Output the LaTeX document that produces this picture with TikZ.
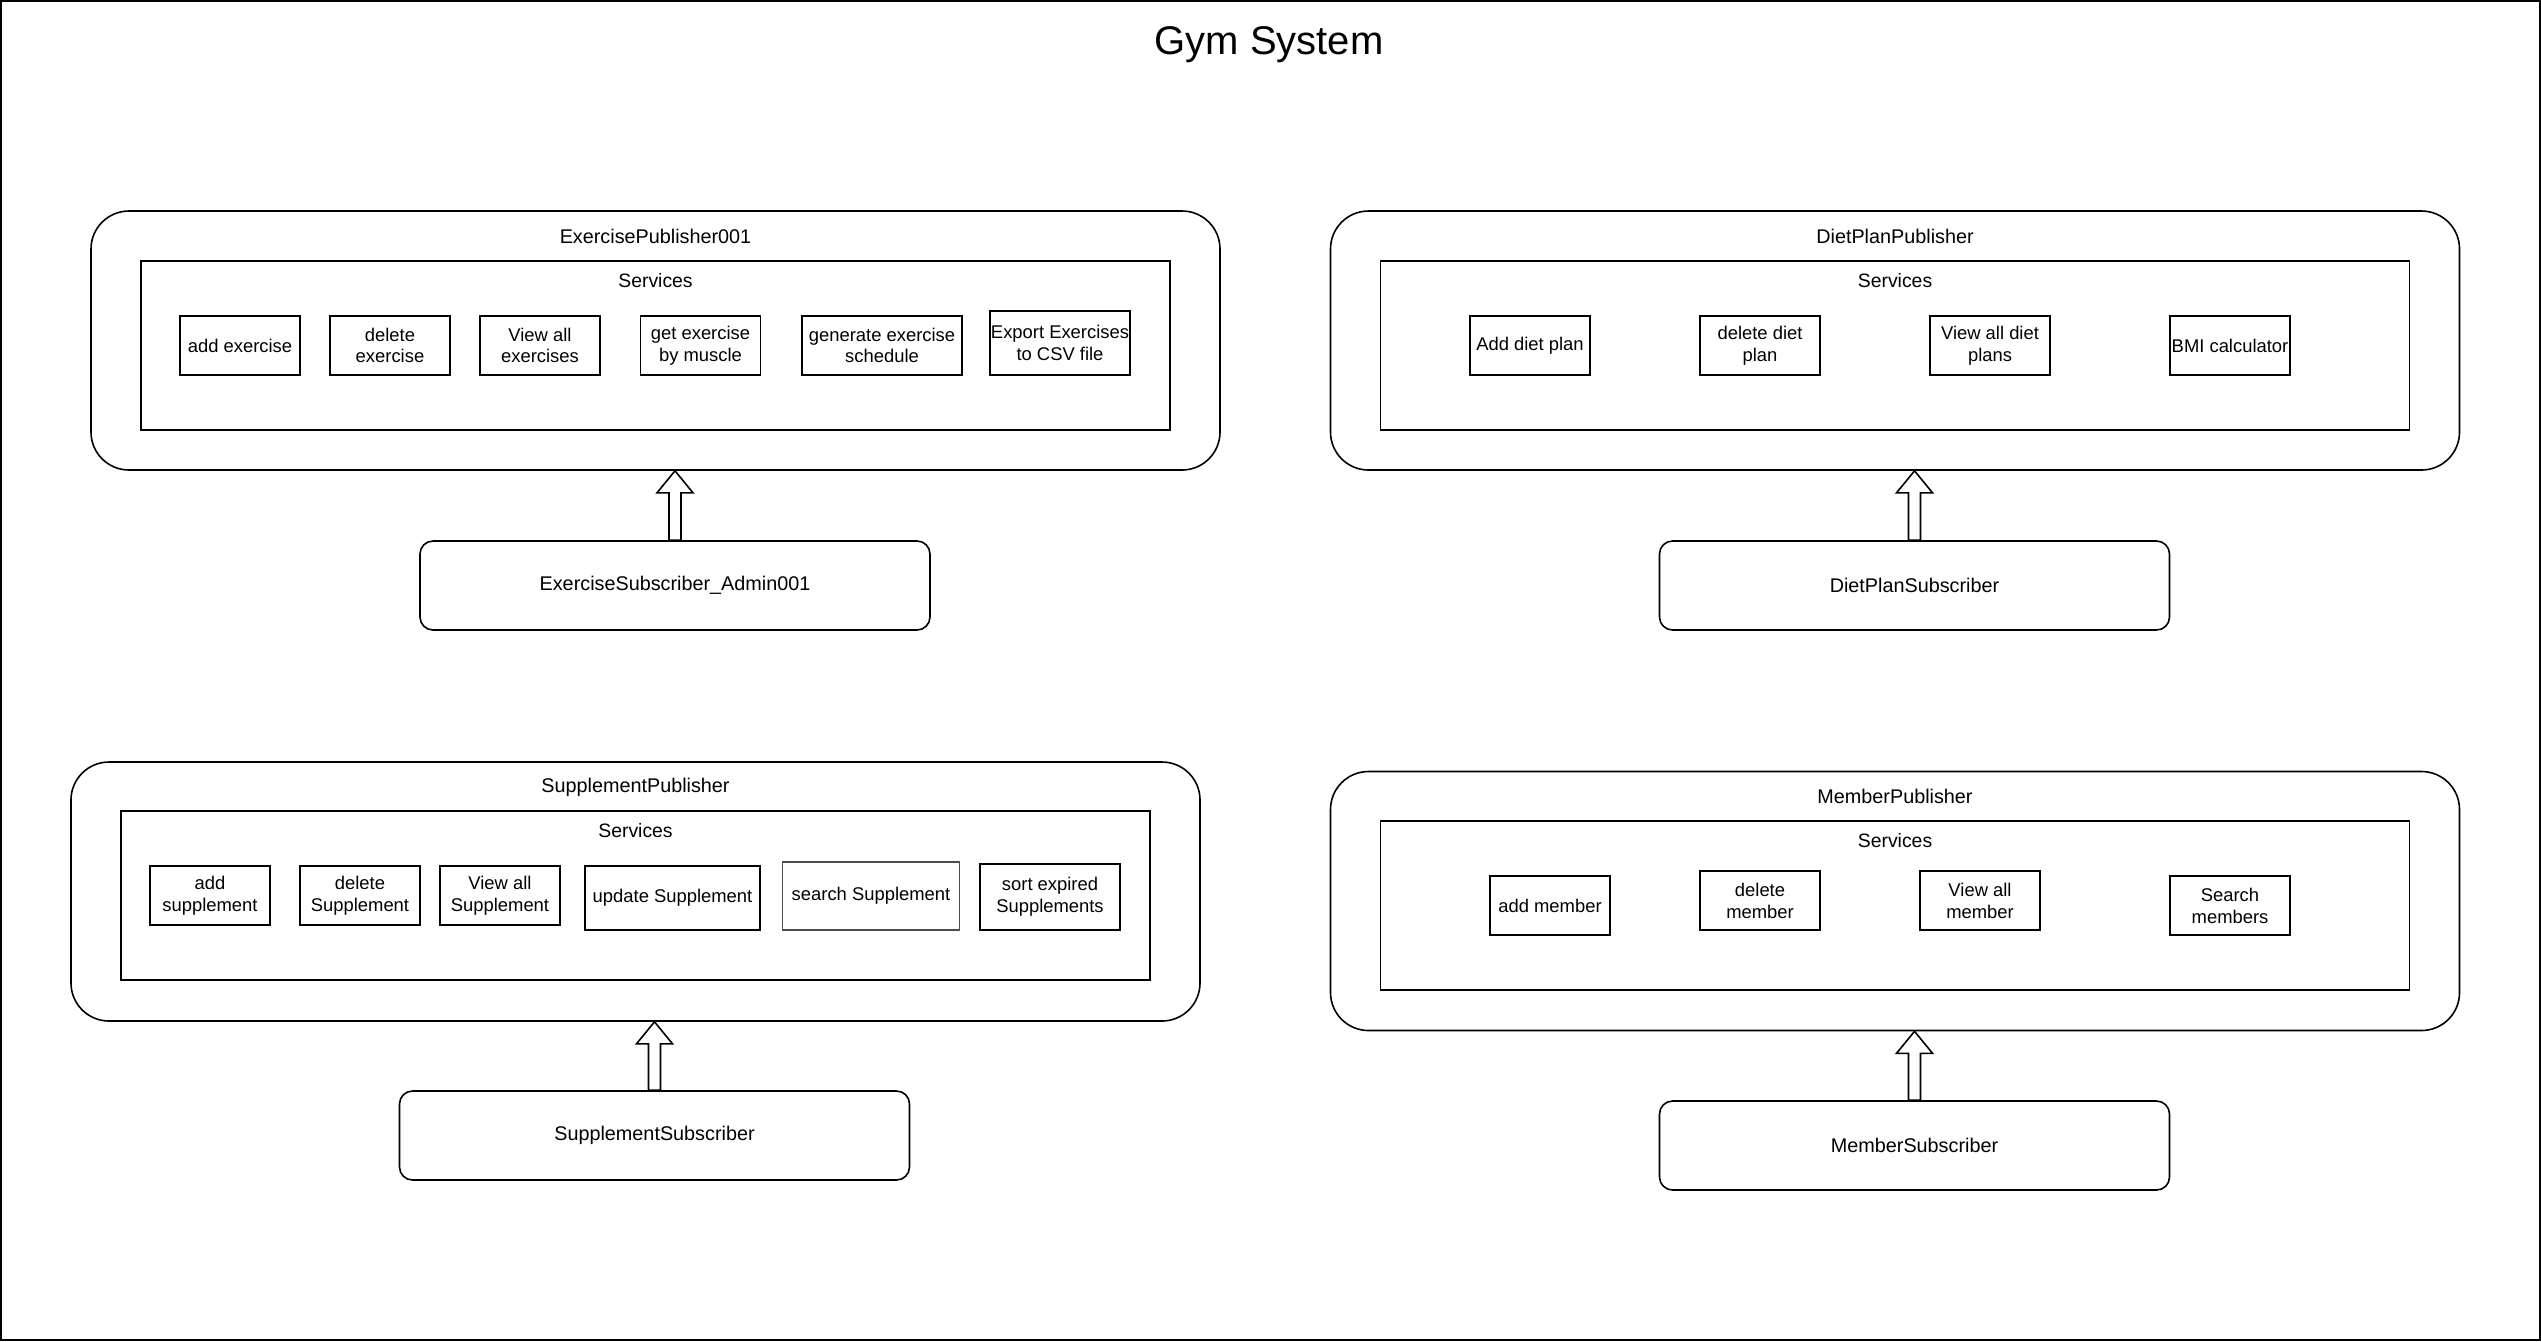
\documentclass[tikz,border=0pt]{standalone}
\usepackage{fontspec}
\setmainfont{Liberation Sans}
\usetikzlibrary{positioning, calc}

\begin{document}
\begin{tikzpicture}[x=0.5pt, y=-0.5pt, line width=0.8pt,
    txt/.style={font=\fontsize{9.7}{11.2}\selectfont},
    bigtxt/.style={font=\fontsize{9.9}{11.5}\selectfont},
    publisher/.style={draw, rounded corners=19pt, minimum width=564.5pt, minimum height=129.5pt},
    services/.style={draw, minimum width=514.5pt, minimum height=84.5pt},
    svc/.style={draw, font=\fontsize{9.2}{10.9}\selectfont, align=center, minimum width=60pt, minimum height=29.5pt, inner xsep=0pt, inner ysep=1pt},
    subscriber/.style={draw, bigtxt, rounded corners=6.5pt, minimum width=255pt, minimum height=44.5pt},
    pubtitle/.style={bigtxt, anchor=center, yshift=-13pt},
    svctitle/.style={txt, anchor=center, yshift=-10pt},
    flexarrow/.style={to path={
        ($(\tikztostart.north)+(-6,0)$) -- ($(\tikztostart.north |- \tikztotarget.south)+(-6,22)$)
        -- ($(\tikztostart.north |- \tikztotarget.south)+(-18,22)$) -- (\tikztostart.north |- \tikztotarget.south)
        -- ($(\tikztostart.north |- \tikztotarget.south)+(18,22)$) -- ($(\tikztostart.north |- \tikztotarget.south)+(6,22)$)
        -- ($(\tikztostart.north)+(6,0)$) -- cycle}}
]
    \useasboundingbox (0,0) rectangle (2541,1341);
    \draw[line width=1pt] (1,1) rectangle (2540,1340);

    \node[font=\fontsize{20}{24}\selectfont] (title) at (1269,45) {Gym System};

    % exercise
    \node[publisher, label={[pubtitle]north:ExercisePublisher001}] (expub) at (655.5,340.5) {};
    \node[services, label={[svctitle]north:Services}] (exsvc) at (655.5,345.5) {};
    \node[svc] (exadd) at (240,345.5) {add exercise};
    \node[svc] (exdel) at (390,345.5) {delete\\exercise};
    \node[svc] (exall) at (540,345.5) {View all\\exercises};
    \node[svc] (exmus) at (700.5,345.5) {get exercise\\by muscle};
    \node[svc, minimum width=80pt] (exgen) at (882,345.5) {generate exercise\\schedule};
    \node[svc, minimum width=70pt, minimum height=32pt] (excsv) at (1060,343) {Export Exercises\\to CSV file};
    \node[subscriber] (exsub) at (675,585.5) {ExerciseSubscriber\_Admin001};

    % diet plan
    \node[publisher, label={[pubtitle]north:DietPlanPublisher}] (dppub) at (1895,340.5) {};
    \node[services, label={[svctitle]north:Services}] (dpsvc) at (1895,345.5) {};
    \node[svc] (dpadd) at (1530,345.5) {Add diet plan};
    \node[svc] (dpdel) at (1760,345.5) {delete diet\\plan};
    \node[svc] (dpall) at (1990,345.5) {View all diet\\plans};
    \node[svc] (dpbmi) at (2230,345.5) {BMI calculator};
    \node[subscriber] (dpsub) at (1914.5,585.5) {DietPlanSubscriber};

    % supplement
    \node[publisher, label={[pubtitle]north:SupplementPublisher}] (sppub) at (635.5,891.5) {};
    \node[services, label={[svctitle]north:Services}] (spsvc) at (635.5,895.5) {};
    \node[svc] (spadd) at (210,895.5) {add\\supplement};
    \node[svc] (spdel) at (360,895.5) {delete\\Supplement};
    \node[svc] (spall) at (500,895.5) {View all\\Supplement};
    \node[svc, minimum width=87.5pt, minimum height=32pt] (spupd) at (672.5,898) {update Supplement};
    \node[svc, draw=black!70, minimum width=88.5pt, minimum height=34pt] (spsrc) at (871,896) {search Supplement};
    \node[svc, minimum width=70pt, minimum height=33pt] (spexp) at (1050,897) {sort expired\\Supplements};
    \node[subscriber] (spsub) at (654.5,1135.5) {SupplementSubscriber};

    % member
    \node[publisher, label={[pubtitle]north:MemberPublisher}] (mbpub) at (1895,901) {};
    \node[services, label={[svctitle]north:Services}] (mbsvc) at (1895,905.5) {};
    \node[svc] (mbadd) at (1550,905.5) {add member};
    \node[svc] (mbdel) at (1760,900.5) {delete\\member};
    \node[svc] (mball) at (1980,900.5) {View all\\member};
    \node[svc] (mbsrc) at (2230,905.5) {Search\\members};
    \node[subscriber] (mbsub) at (1914.5,1145.5) {MemberSubscriber};

    \draw[flexarrow] (exsub) to (expub);
    \draw[flexarrow] (dpsub) to (dppub);
    \draw[flexarrow] (spsub) to (sppub);
    \draw[flexarrow] (mbsub) to (mbpub);
\end{tikzpicture}
\end{document}
